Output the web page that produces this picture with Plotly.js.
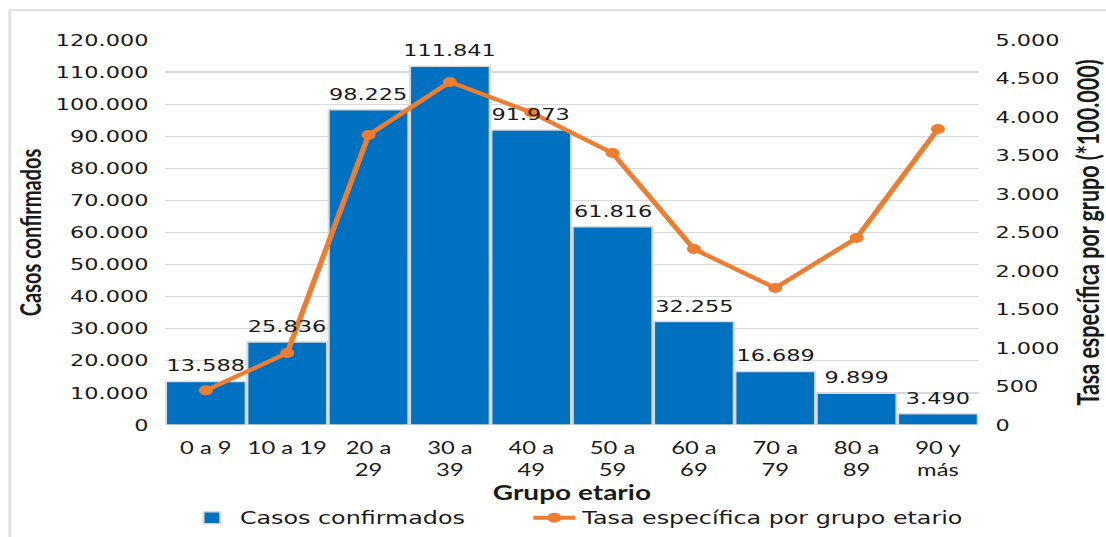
<!DOCTYPE html>
<html>
<head>
<meta charset="utf-8">
<script src="https://cdn.plot.ly/plotly-3.0.1.min.js"></script>
<style>
  html, body { margin: 0; padding: 0; background: #ffffff; }
  #wrap { width: 1106px; height: 537px; overflow: hidden; position: relative; background: #ffffff; }
  #chart { width: 790px; height: 537px; transform: scaleX(1.4); transform-origin: 0 0; }
</style>
</head>
<body>
<div id="wrap"><div id="chart"></div></div>
<script>
// ---- data ----
var categories = ['0 a 9', '10 a 19', '20 a 29', '30 a 39', '40 a 49', '50 a 59', '60 a 69', '70 a 79', '80 a 89', '90 y más'];
var tickLabels = ['0 a 9', '10 a 19', '20 a<br>29', '30 a<br>39', '40 a<br>49', '50 a<br>59', '60 a<br>69', '70 a<br>79', '80 a<br>89', '90 y<br>más'];
var casosConfirmados = [13588, 25836, 98225, 111841, 91973, 61816, 32255, 16689, 9899, 3490];
var tasaEspecifica = [450, 935, 3766, 4455, 4060, 3532, 2286, 1779, 2429, 3844];
var leftTicks = [0, 10000, 20000, 30000, 40000, 50000, 60000, 70000, 80000, 90000, 100000, 110000, 120000];
var rightTicks = [0, 500, 1000, 1500, 2000, 2500, 3000, 3500, 4000, 4500, 5000];

function fmt(v) { return String(v).replace(/\B(?=(\d{3})+(?!\d))/g, '.'); }

var numFont = 'DejaVu Sans';
var txtColor = '#1a1a1a';

var bars = {
  type: 'bar',
  name: 'Casos confirmados',
  x: categories,
  y: casosConfirmados,
  marker: { color: '#0070C0', line: { color: '#d9d9d9', width: 1.5 } },
  legend: 'legend',
  hoverinfo: 'skip'
};

var line = {
  type: 'scatter',
  mode: 'lines+markers',
  name: 'Tasa específica por grupo etario',
  x: categories,
  y: tasaEspecifica,
  yaxis: 'y2',
  line: { color: '#ED7D31', width: 4 },
  marker: { color: '#ED7D31', size: 10 },
  legend: 'legend2',
  hoverinfo: 'skip'
};

var annotations = categories.map(function (c, i) {
  return {
    x: c, y: casosConfirmados[i], xref: 'x', yref: 'y',
    text: fmt(casosConfirmados[i]),
    showarrow: false, yanchor: 'bottom', xanchor: 'center', yshift: 4,
    font: { family: numFont, size: 16, color: txtColor }
  };
});

var legendFont = { family: numFont, size: 17, color: txtColor };

var layout = {
  width: 790, height: 537,
  margin: { l: 118, r: 91, t: 40, b: 112, pad: 0, autoexpand: false },
  paper_bgcolor: 'rgba(0,0,0,0)',
  plot_bgcolor: 'rgba(0,0,0,0)',
  separators: ',.',
  bargap: 0.02,
  showlegend: true,
  legend: {
    orientation: 'h', x: 0.023, xanchor: 'left', y: -0.242, yanchor: 'middle',
    font: legendFont, bgcolor: 'rgba(0,0,0,0)'
  },
  legend2: {
    orientation: 'h', x: 0.444, xanchor: 'left', y: -0.242, yanchor: 'middle',
    font: legendFont, bgcolor: 'rgba(0,0,0,0)'
  },
  xaxis: {
    type: 'category',
    range: [-0.5, 9.5],
    tickvals: categories, ticktext: tickLabels,
    tickfont: { family: 'Lato', size: 17, color: txtColor },
    ticks: '', showline: false, showgrid: false, zeroline: false,
    ticklabelstandoff: 11,
    automargin: false,
    title: { text: 'Grupo etario', font: { family: 'Lato', size: 20, weight: 700, color: txtColor }, standoff: 2 }
  },
  yaxis: {
    range: [0, 120000], tickvals: leftTicks, tickformat: ',d',
    tickfont: { family: numFont, size: 16, color: txtColor },
    showgrid: true, gridcolor: '#d9d9d9', gridwidth: 1.2,
    zeroline: false, showline: false, ticks: '',
    ticklabelstandoff: 11,
    automargin: false,
    title: { text: 'Casos confirmados', font: { family: 'Lato', size: 20, weight: 700, color: txtColor }, standoff: 4 }
  },
  yaxis2: {
    overlaying: 'y', side: 'right',
    range: [0, 5000], tickvals: rightTicks, tickformat: ',d',
    tickfont: { family: numFont, size: 16, color: txtColor },
    showgrid: false, zeroline: false, showline: false, ticks: '',
    ticklabelstandoff: 11,
    automargin: false,
    title: { text: 'Tasa específica por grupo (*100.000)', font: { family: 'Lato', size: 21.5, weight: 700, color: txtColor }, standoff: 18 }
  },
  annotations: annotations,
  shapes: [
    { type: 'line', xref: 'paper', yref: 'paper', x0: -0.191, x1: -0.191, y0: -0.32, y1: 1.078, line: { color: '#e0e0e0', width: 2 }, layer: 'below' },
    { type: 'line', xref: 'paper', yref: 'paper', x0: -0.191, x1: 1.2, y0: 1.078, y1: 1.078, line: { color: '#e0e0e0', width: 2 }, layer: 'below' }
  ]
};

Plotly.newPlot('chart', [bars, line], layout, { staticPlot: true, displayModeBar: false });
</script>
</body>
</html>
